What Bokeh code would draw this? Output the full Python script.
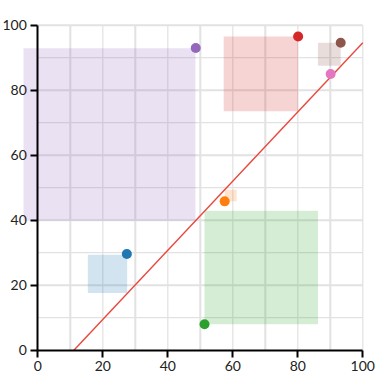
from bokeh.plotting import figure
from bokeh.models import Range1d, FixedTicker, LinearAxis
from bokeh.embed import file_html
from bokeh.resources import INLINE

# ---- data ----
colors = ["#1f77b4", "#ff7f0e", "#2ca02c", "#d62728", "#9467bd", "#8c564b", "#e377c2"]
point_x = [27.4, 57.5, 51.3, 80.1, 48.6, 93.2, 90.1]
point_y = [29.6, 45.8, 8.0, 96.5, 93.0, 94.6, 85.0]
rect_left = [15.4, 57.5, 51.3, 57.2, -4.4, 86.2, 90.1]
rect_right = [27.5, 61.2, 86.2, 80.1, 48.5, 93.2, 90.1]
rect_bottom = [17.6, 45.8, 8.0, 73.5, 39.8, 87.5, 85.0]
rect_top = [29.4, 49.4, 42.9, 96.5, 92.9, 94.6, 85.0]
line_x = [11.1, 100.0]
line_y = [0.0, 94.6]
tick_values = [0, 20, 40, 60, 80, 100]
grid_x_thick = [10, 30, 50, 70, 90]
grid_x_thin = [20, 40, 60, 80, 100]
grid_y_thick = [20, 40, 60, 80, 100]
grid_y_thin = [10, 30, 50, 70, 90]

# ---- layout ----
W = H = 378
scale = 3.25            # px per unit
x0_px, y0_px = 37.3, 349.7   # canvas position of data origin
x_rng = Range1d(-x0_px / scale, (W - x0_px) / scale)
y_rng = Range1d(-(H - y0_px) / scale, y0_px / scale)

p = figure(width=W, height=H, output_backend="svg", toolbar_location=None,
           x_range=x_rng, y_range=y_rng,
           min_border_left=0, min_border_right=0, min_border_top=0, min_border_bottom=0,
           x_axis_location=None, y_axis_location=None)
p.outline_line_color = None
p.xgrid.visible = False
p.ygrid.visible = False
p.background_fill_color = "white"

GRID = "#e2e2e2"
# grid lines (kept within 0..100)
p.segment(x0=grid_x_thick, x1=grid_x_thick, y0=[0]*5, y1=[100]*5, line_color=GRID, line_width=2)
p.segment(x0=grid_x_thin, x1=grid_x_thin, y0=[0]*5, y1=[100]*5, line_color=GRID, line_width=1.2)
p.segment(x0=[0]*5, x1=[100]*5, y0=grid_y_thick, y1=grid_y_thick, line_color=GRID, line_width=2)
p.segment(x0=[0]*5, x1=[100]*5, y0=grid_y_thin, y1=grid_y_thin, line_color=GRID, line_width=1.2)

# rectangles
p.quad(left=rect_left, right=rect_right, bottom=rect_bottom, top=rect_top,
       fill_color=colors, fill_alpha=0.2, line_color=None)

# line
p.line(line_x, line_y, line_color="#e8483d", line_width=1.4)

# points
p.scatter(point_x, point_y, size=10, fill_color=colors, line_color=None)

def style_axis(ax):
    ax.ticker = FixedTicker(ticks=tick_values)
    ax.axis_line_color = "black"
    ax.axis_line_width = 2
    ax.major_tick_line_color = "black"
    ax.major_tick_line_width = 2
    ax.major_tick_out = 7
    ax.major_tick_in = 0
    ax.minor_tick_line_color = None
    ax.major_label_text_font = "Lato"
    ax.major_label_text_font_size = "14px"
    ax.major_label_text_color = "#222222"
    ax.major_label_standoff = 4

xaxis = LinearAxis(fixed_location=0, bounds=(0, 100))
style_axis(xaxis)
p.add_layout(xaxis, "below")

yaxis = LinearAxis(fixed_location=0, bounds=(0, 100))
style_axis(yaxis)
p.add_layout(yaxis, "left")

open("out.html", "w").write(file_html(p, INLINE))
